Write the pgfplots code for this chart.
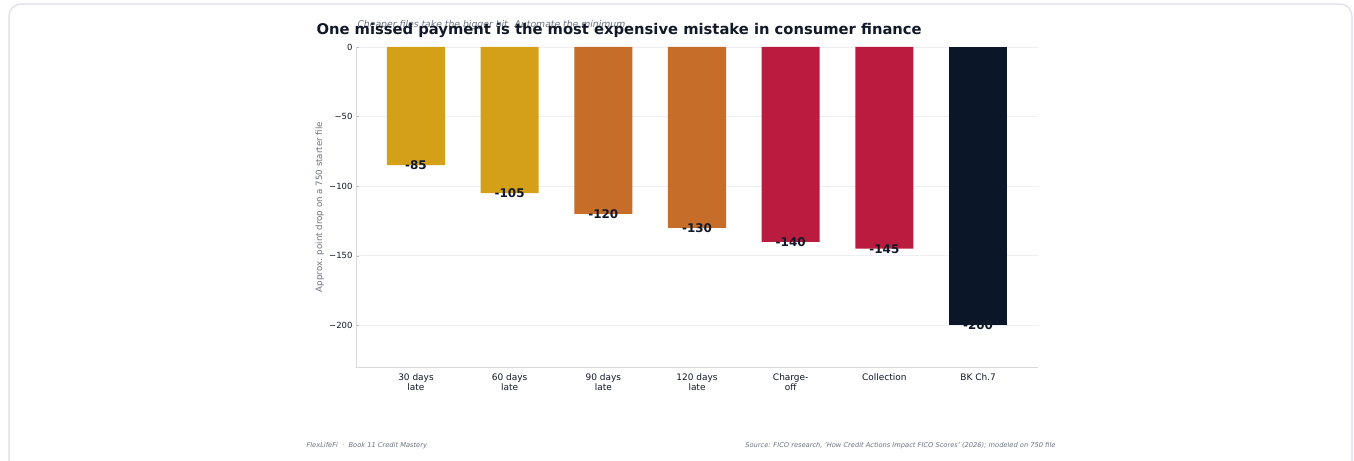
\documentclass[border=0pt]{standalone}
\usepackage{pgfplots}
\pgfplotsset{compat=1.18}
\usepackage{fontspec}
\setmainfont{DejaVu Sans}
\definecolor{cgold}{HTML}{D4A017}
\definecolor{corange}{HTML}{C66D29}
\definecolor{ccrim}{HTML}{BA1C3F}
\definecolor{cnavy}{HTML}{0B1628}
\definecolor{ctext}{HTML}{111827}
\definecolor{cgray}{HTML}{6B7280}
\definecolor{cgrid}{HTML}{EEEEF4}
\definecolor{cborder}{HTML}{DDDDEE}
\pgfplotstableread{
x y c
0 -85 1
1 -105 1
2 -120 2
3 -130 2
4 -140 3
5 -145 3
6 -200 4
}\datatable
\begin{document}
\begin{tikzpicture}[x=1bp,y=1bp]
\clip (0,0) rectangle (1354,461);
\path[use as bounding box] (0,0) rectangle (1354,461);
\fill[white] (0,0) rectangle (1354,461);
\draw[cborder, line width=1.2bp, rounded corners=12bp] (9,-20) rectangle (1352,457);
\begin{axis}[
  at={(356bp,94bp)}, anchor=south west,
  width=682bp, height=320bp, scale only axis,
  xmin=-0.64, xmax=6.64, ymin=-230, ymax=0,
  ytick={-200,-150,-100,-50,0},
  yticklabels={−200,−150,−100,−50,0},
  xtick={0,...,6},
  xticklabels={30 days\\late,60 days\\late,90 days\\late,120 days\\late,Charge-\\off,Collection,BK Ch.7},
  xticklabel style={align=center, font=\fontsize{9}{10}\selectfont, text=ctext, yshift=-3bp},
  yticklabel style={font=\fontsize{8.5}{10}\selectfont, text=ctext},
  major tick length=3bp,
  xtick style={draw=none},
  ytick style={draw=cgray!50},
  ymajorgrids, grid style={cgrid, line width=0.6bp},
  axis x line*=bottom, axis y line*=left,
  axis line style={draw=cgrid!80!gray, line width=0.6bp},
  ylabel={Approx. point drop on a 750 starter file},
  ylabel style={font=\fontsize{8.7}{10}\selectfont, text=cgray, at={(axis description cs:-0.042,0.5)}},
  clip=false,
]
\addplot[ybar, bar width=0.62, bar shift=0, fill=cgold, draw=none] coordinates {(0,-85) (1,-105)};
\addplot[ybar, bar width=0.62, bar shift=0, fill=corange, draw=none] coordinates {(2,-120) (3,-130)};
\addplot[ybar, bar width=0.62, bar shift=0, fill=ccrim, draw=none] coordinates {(4,-140) (5,-145)};
\addplot[ybar, bar width=0.62, bar shift=0, fill=cnavy, draw=none] coordinates {(6,-200)};
\addplot[only marks, mark=none, nodes near coords={\pgfmathprintnumber[assume math mode=true]{\pgfplotspointmeta}},
  nodes near coords style={anchor=center, font=\fontsize{12}{14}\selectfont\bfseries, text=ctext},
  point meta=explicit] table[x=x, y=y, meta=y] {\datatable};
\end{axis}
\node[anchor=west, font=\fontsize{9.3}{11}\selectfont\itshape, text=cgray] at (354,436) {Cheaper files take the bigger hit. Automate the minimum.};
\node[anchor=west, font=\fontsize{14.8}{17}\selectfont\bfseries, text=ctext] at (313,431) {One missed payment is the most expensive mistake in consumer finance};
\node[anchor=west, font=\fontsize{6.7}{8}\selectfont\itshape, text=cgray] at (303,15) {FlexLifeFi \ · \ Book 11 Credit Mastery};
\node[anchor=east, font=\fontsize{6.7}{8}\selectfont\itshape, text=cgray] at (1059,15) {Source: FICO research, 'How Credit Actions Impact FICO Scores' (2026); modeled on 750 file};
\end{tikzpicture}
\end{document}
